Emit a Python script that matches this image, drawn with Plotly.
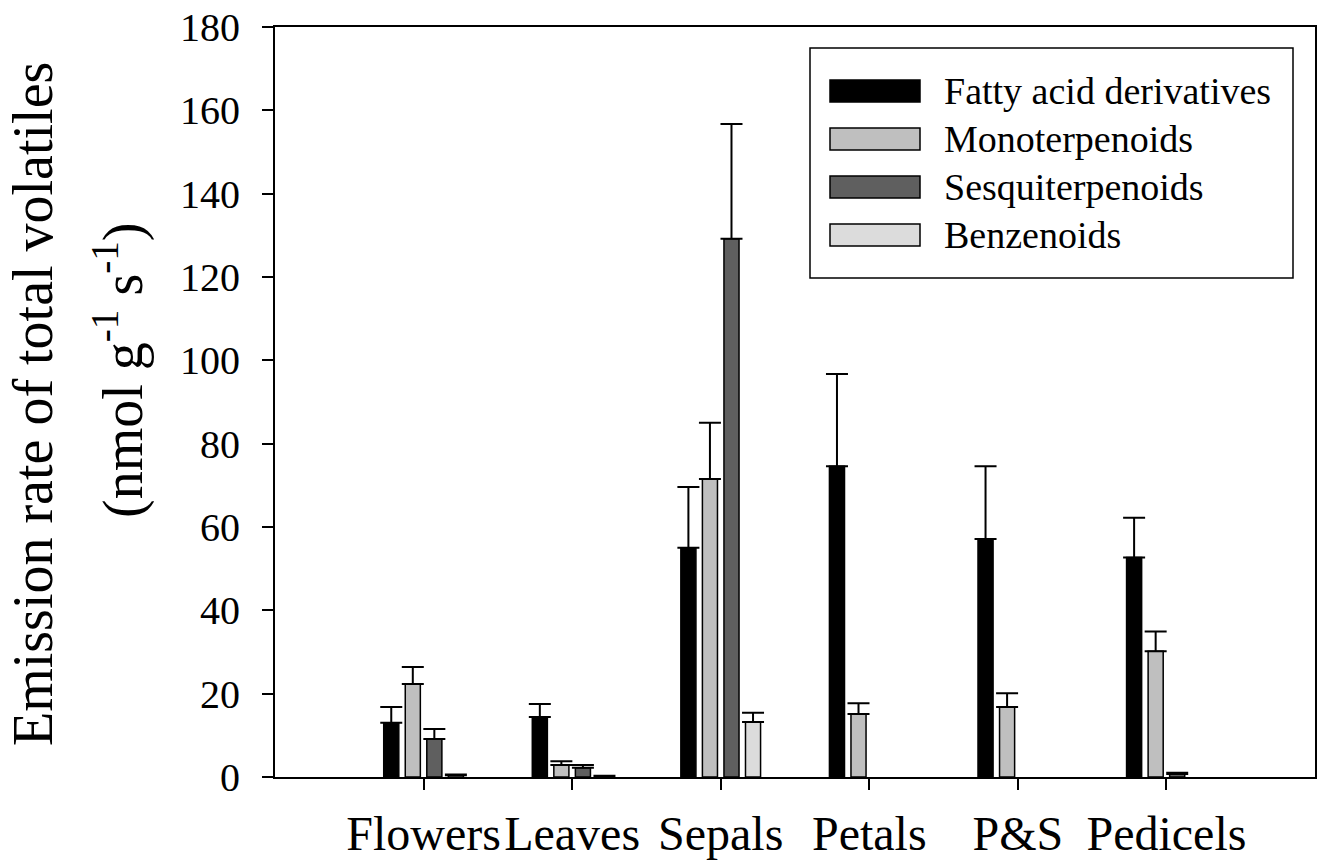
import plotly.graph_objects as go

# ---------------- data ----------------
categories = ["Flowers", "Leaves", "Sepals", "Petals", "P&S", "Pedicels"]
series_names = ["Fatty acid derivatives", "Monoterpenoids", "Sesquiterpenoids", "Benzenoids"]

fatty = [13.0, 14.4, 55.0, 74.6, 57.1, 52.7]
fatty_err = [3.8, 3.1, 14.6, 22.1, 17.5, 9.5]
mono = [22.3, 2.9, 71.5, 15.1, 16.8, 30.2]
mono_err = [4.1, 0.9, 13.5, 2.6, 3.3, 4.7]
sesq = [9.1, 2.2, 129.2, None, None, 0.7]
sesq_err = [2.4, 0.7, 27.5, None, None, 0.3]
benz = [0.4, 0.2, 13.2, None, None, None]
benz_err = [0.2, 0.1, 2.2, None, None, None]

y_ticks = [0, 20, 40, 60, 80, 100, 120, 140, 160, 180]

# ---------------- style ----------------
colors = ["#000000", "#bfbfbf", "#5f5f5f", "#dcdcdc"]
FONT = "Liberation Serif, serif"
W, H = 1323, 865
L, R, T, B = 275, 1315, 27, 777  # plot area in pixels


def px_x(px):
    return (px - L) / (R - L)


def px_y(py):
    return (B - py) / (B - T)


values = [fatty, mono, sesq, benz]
errors = [fatty_err, mono_err, sesq_err, benz_err]

fig = go.Figure()
for name, vals, errs, col in zip(series_names, values, errors, colors):
    fig.add_trace(go.Bar(
        x=categories, y=vals, name=name,
        marker=dict(color=col, line=dict(color="black", width=1.5)),
        error_y=dict(type="data", array=errs,
                     arrayminus=[0] * len(errs), symmetric=False,
                     color="black", thickness=2, width=11),
        showlegend=False,
    ))

# manual legend (wide swatches as in the original)
shapes = [dict(type="rect", xref="paper", yref="paper",
               x0=px_x(810), x1=px_x(1293), y0=px_y(278), y1=px_y(48),
               line=dict(color="black", width=1.5), fillcolor="white", layer="above")]
annotations = []
for i, (name, col) in enumerate(zip(series_names, colors)):
    yc = 91 + 48 * i
    shapes.append(dict(type="rect", xref="paper", yref="paper",
                       x0=px_x(830), x1=px_x(920), y0=px_y(yc + 11), y1=px_y(yc - 11),
                       line=dict(color="black", width=1.5), fillcolor=col, layer="above"))
    annotations.append(dict(text=name, xref="paper", yref="paper",
                            x=px_x(942), y=px_y(yc), xanchor="left", yanchor="middle",
                            showarrow=False, font=dict(family=FONT, size=38, color="black")))

# y-axis title, two lines
annotations.append(dict(text="Emission rate of total volatiles", xref="paper", yref="paper",
                        x=px_x(33), y=px_y(404), xanchor="center", yanchor="middle",
                        textangle=-90, showarrow=False,
                        font=dict(family=FONT, size=56, color="black")))
annotations.append(dict(text="(nmol g<sup>-1</sup> s<sup>-1</sup>)", xref="paper", yref="paper",
                        x=px_x(119), y=px_y(370), xanchor="center", yanchor="middle",
                        textangle=-90, showarrow=False,
                        font=dict(family=FONT, size=56, color="black")))

fig.update_layout(
    width=W, height=H,
    margin=dict(l=L, r=W - R, t=T, b=H - B, autoexpand=False),
    paper_bgcolor="white", plot_bgcolor="white",
    barmode="group", bargap=0.42, bargroupgap=0.30,
    shapes=shapes, annotations=annotations,
    font=dict(family=FONT, color="black"),
)
fig.update_xaxes(
    type="category", range=[-1, 6], automargin=False, tickangle=0,
    showline=True, linecolor="black", linewidth=2, mirror=True,
    ticks="outside", ticklen=11, tickwidth=2, tickcolor="black",
    tickfont=dict(family=FONT, size=48, color="black"),
    showgrid=False, zeroline=False, ticklabelstandoff=2,
)
fig.update_yaxes(
    range=[0, 180], tickvals=y_ticks, automargin=False,
    showline=True, linecolor="black", linewidth=2, mirror=True,
    ticks="outside", ticklen=11, tickwidth=2, tickcolor="black",
    tickfont=dict(family=FONT, size=40, color="black"),
    showgrid=False, zeroline=False, ticklabelstandoff=14,
)

fig.write_html("out.html")
